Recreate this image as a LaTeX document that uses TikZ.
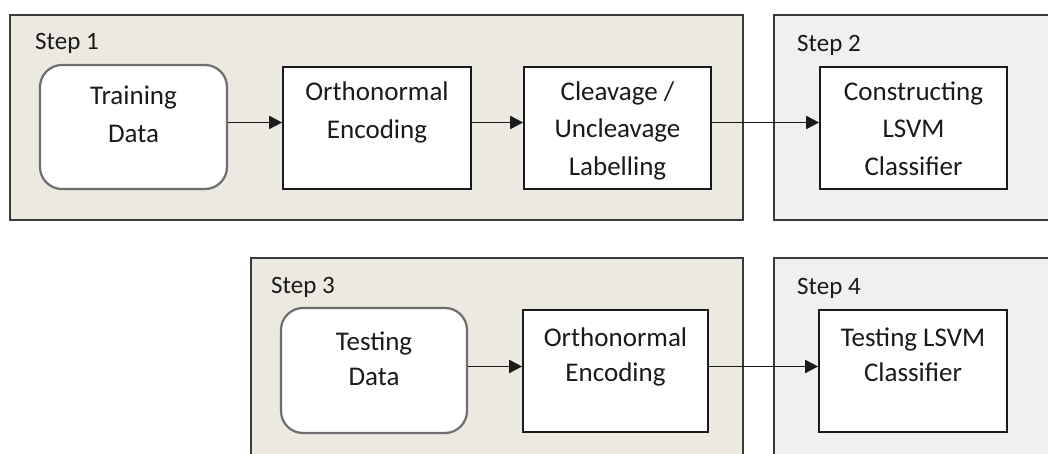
\documentclass[tikz,border=0pt]{standalone}
\usepackage{fontspec}
\setmainfont{Carlito}
\usetikzlibrary{arrows.meta}
\definecolor{beige}{HTML}{ECE9E0}
\definecolor{lgray}{HTML}{F0F0F0}
\definecolor{bordr}{HTML}{3A3A3A}
\definecolor{rbord}{HTML}{6E6E6E}
\definecolor{txt}{HTML}{1A1A1A}
\begin{document}
\begin{tikzpicture}[x=1pt,y=-1pt,
  panelA/.style={draw=bordr, fill=beige, line width=1.5pt},
  panelB/.style={draw=bordr, fill=lgray, line width=1.5pt},
  procbox/.style={draw=txt, fill=white, line width=1.7pt, inner sep=0pt},
  databox/.style={draw=rbord, fill=white, line width=2.2pt, rounded corners=22pt, inner sep=0pt},
  boxtext/.style={anchor=base, inner sep=0pt, text=txt, font=\fontsize{27}{37.5}\selectfont},
  boxtextb/.style={anchor=base, inner sep=0pt, text=txt, font=\fontsize{27}{35}\selectfont},
  steptext/.style={anchor=base west, inner sep=0pt, text=txt, font=\fontsize{25}{30}\selectfont},
  arr/.style={draw=txt, line width=1.8pt, -{Triangle[length=13pt,width=13pt]}}]
\useasboundingbox (0,0) rectangle (1048,454);
\begin{scope}
  \clip (0,0) rectangle (1048,454);
  \path[panelA] (10,15) rectangle (743,220);
  \path[panelB] (774,15) rectangle (1070,220);
  \path[panelA] (251,258) rectangle (743,480);
  \path[panelB] (774,258) rectangle (1070,480);
\end{scope}
% step labels
\node[steptext] (s1) at (35,49.5) {Step 1};
\node[steptext] (s2) at (797,52) {Step 2};
\node[steptext] (s3) at (271,293) {Step 3};
\node[steptext] (s4) at (797,294) {Step 4};
% top row boxes
\node[databox, minimum width=187pt, minimum height=124pt] (train) at (133.5,127) {};
\node[procbox, minimum width=188pt, minimum height=122pt] (ortho1) at (377,128) {};
\node[procbox, minimum width=187pt, minimum height=122pt] (cleav) at (617.5,128) {};
\node[procbox, minimum width=187pt, minimum height=122pt] (constr) at (913.5,128) {};
% bottom row boxes
\node[databox, minimum width=186pt, minimum height=125pt] (test) at (374,370.5) {};
\node[procbox, minimum width=185pt, minimum height=122pt] (ortho2) at (615.5,371) {};
\node[procbox, minimum width=188pt, minimum height=122pt] (tlsvm) at (913,371) {};
% texts
\node[boxtext] (ttrain) at (133.5,105) {\begin{tabular}[t]{@{}c@{}}Training\\Data\end{tabular}};
\node[boxtext] (tortho1) at (377,101) {\begin{tabular}[t]{@{}c@{}}Orthonormal\\Encoding\end{tabular}};
\node[boxtext] (tcleav) at (617.5,100.5) {\begin{tabular}[t]{@{}c@{}}Cleavage /\\Uncleavage\\Labelling\end{tabular}};
\node[boxtext] (tconstr) at (913.5,100.5) {\begin{tabular}[t]{@{}c@{}}Constructing\\LSVM\\Classifier\end{tabular}};
\node[boxtextb] (ttest) at (374,350) {\begin{tabular}[t]{@{}c@{}}Testing\\Data\end{tabular}};
\node[boxtextb] (tortho2) at (615.5,346.5) {\begin{tabular}[t]{@{}c@{}}Orthonormal\\Encoding\end{tabular}};
\node[boxtextb] (ttlsvm) at (913,346.5) {\begin{tabular}[t]{@{}c@{}}Testing LSVM\\Classifier\end{tabular}};
% arrow rows
\coordinate (rowa) at (0,122.5);
\coordinate (rowb) at (0,366.5);
\draw[arr] (train.east |- rowa) -- (ortho1.west |- rowa);
\draw[arr] (ortho1.east |- rowa) -- (cleav.west |- rowa);
\draw[arr] (cleav.east |- rowa) -- (constr.west |- rowa);
\draw[arr] (test.east |- rowb) -- (ortho2.west |- rowb);
\draw[arr] (ortho2.east |- rowb) -- (tlsvm.west |- rowb);
\end{tikzpicture}
\end{document}
